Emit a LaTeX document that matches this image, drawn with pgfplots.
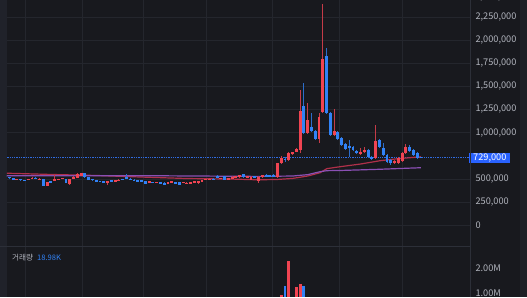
\documentclass[border=0pt]{standalone}
\usepackage{pgfplots}
\pgfplotsset{compat=1.18}
\usepackage{pgfplotstable}
\usepackage{fontspec}
\setmainfont{Noto Sans CJK KR}
\definecolor{bgc}{HTML}{18191E}
\definecolor{leftc}{HTML}{20222A}
\definecolor{rightc}{HTML}{1E2026}
\definecolor{gridc}{HTML}{24262D}
\definecolor{sepc}{HTML}{2C2F38}
\definecolor{tickc}{HTML}{B2B5BE}
\definecolor{cred}{HTML}{F04452}
\definecolor{cblue}{HTML}{3182F6}
\definecolor{plblue}{HTML}{2962FF}
\definecolor{pldot}{HTML}{2F6BE0}
\definecolor{maone}{HTML}{B0304A}
\definecolor{matwo}{HTML}{8A50B4}
\newcommand\tickfont{\fontsize{9.2}{11}\selectfont}

\pgfplotstableread{
i o h l c
3 487000 503000 483000 498000
6 487000 502000 483000 498000
7 498000 519000 494000 514000
9 492000 508000 488000 503000
11 422000 470000 417000 465000
13 476000 541000 471000 498000
14 487000 503000 482000 498000
15 498000 514000 493000 509000
17 444000 503000 438000 498000
18 498000 525000 493000 520000
19 509000 563000 504000 557000
20 530000 568000 525000 563000
27 465000 480000 433000 476000
29 476000 491000 472000 487000
30 482000 497000 477000 492000
38 455000 476000 450000 471000
40 455000 470000 450000 465000
43 449000 465000 444000 460000
44 455000 476000 450000 471000
47 455000 470000 450000 465000
48 444000 460000 439000 455000
49 449000 465000 444000 460000
50 455000 476000 450000 471000
51 465000 481000 444000 476000
52 471000 492000 466000 487000
53 487000 503000 482000 498000
54 492000 508000 488000 503000
57 498000 514000 493000 509000
59 487000 514000 482000 509000
60 498000 525000 493000 520000
61 509000 535000 504000 530000
62 520000 546000 514000 541000
64 509000 535000 504000 530000
65 487000 525000 482000 520000
67 476000 525000 455000 520000
68 520000 546000 514000 541000
72 520000 676000 514000 671000
73 671000 747000 660000 725000
75 704000 790000 698000 779000
76 768000 795000 763000 790000
77 790000 828000 785000 823000
78 812000 1461000 779000 1234000
80 996000 1320000 985000 1136000
83 931000 1212000 888000 1169000
84 1223000 2392000 1212000 1797000
87 974000 1256000 963000 1017000
94 779000 830000 757000 790000
95 790000 844000 779000 812000
98 725000 1082000 714000 909000
103 671000 703000 660000 693000
104 671000 736000 660000 725000
105 693000 790000 682000 779000
106 779000 877000 768000 844000
}\uptab

\pgfplotstableread{
i o h l c
0 541000 546000 515000 520000
1 520000 524000 504000 509000
2 509000 513000 482000 487000
4 498000 502000 482000 487000
5 488000 492000 477000 481000
8 514000 518000 499000 503000
10 498000 503000 417000 422000
12 476000 481000 460000 465000
16 498000 503000 450000 455000
21 563000 568000 514000 520000
22 520000 524000 488000 492000
23 498000 502000 482000 487000
24 487000 491000 471000 476000
25 477000 481000 466000 470000
26 476000 480000 460000 465000
28 482000 486000 466000 471000
31 498000 503000 482000 487000
32 520000 547000 493000 498000
33 503000 508000 488000 492000
34 492000 497000 477000 482000
35 487000 491000 471000 476000
36 487000 491000 466000 471000
37 476000 481000 444000 449000
39 465000 470000 450000 455000
41 460000 465000 444000 449000
42 455000 460000 433000 438000
45 465000 470000 444000 449000
46 460000 465000 433000 438000
55 503000 508000 488000 492000
56 530000 541000 504000 509000
58 530000 535000 482000 487000
63 552000 557000 514000 520000
66 530000 535000 504000 509000
69 541000 552000 520000 525000
70 536000 546000 520000 525000
71 541000 552000 525000 530000
74 714000 736000 682000 704000
79 1288000 1537000 985000 996000
81 1061000 1212000 1006000 1017000
82 1017000 1028000 920000 931000
85 1829000 1916000 1201000 1212000
86 1212000 1223000 963000 974000
88 1007000 1017000 920000 931000
89 942000 952000 855000 866000
90 877000 887000 812000 823000
91 855000 920000 736000 833000
92 844000 855000 801000 812000
93 801000 812000 768000 779000
96 812000 822000 725000 736000
97 736000 747000 704000 714000
99 920000 931000 833000 844000
100 833000 887000 747000 758000
101 758000 768000 671000 682000
102 704000 714000 649000 671000
107 844000 866000 790000 801000
108 812000 822000 747000 758000
109 779000 790000 714000 725000
110 736000 740000 725000 729000
}\downtab

\pgfplotsset{
  candlebase/.style={
    xmin=0.37, xmax=122.99,
    scale only axis,
    axis line style={draw=none},
    tick style={draw=none},
    major tick length=0pt,
    xtick={5.1,20.2,36.4,53.1,70.7,88.3,105.0},
    xticklabels={},
    xticklabel style={text opacity=0},
    xmajorgrids,
    grid style={draw=gridc, line width=0.6pt},
    ytick pos=right,
    yticklabel pos=right,
    yticklabel style={font=\tickfont, text=tickc, anchor=west, xshift=2pt},
    scaled y ticks=false,
    clip mode=individual,
  },
}

\begin{document}
\begin{tikzpicture}[x=1pt,y=1pt]
\useasboundingbox (0,0) rectangle (527,297);
\fill[bgc] (0,0) rectangle (527,297);
\fill[leftc] (0,0) rectangle (7,297);
\fill[rightc] (520,0) rectangle (527,297);
\begin{scope}
\clip (0,0) rectangle (527,297);

% price pane
\begin{axis}[candlebase,
  at={(7pt,51pt)}, anchor=south west,
  width=463pt, height=246pt,
  ymin=-227283, ymax=2435175,
  ytick={0,250000,500000,1000000,1250000,1500000,1750000,2000000,2250000},
  ymajorgrids,
  yticklabel style={/pgf/number format/fixed, /pgf/number format/precision=0,
    /pgf/number format/1000 sep={,}, /pgf/number format/assume math mode=true},
]
\addplot[pldot, line width=1pt, dash pattern=on 1.3pt off 1pt] coordinates {(-2,729000) (125,729000)};
% moving averages
\addplot[maone, line width=1.2pt] coordinates {
  (-1,562000) (12,547000) (24,536000) (36,519000) (48,503000) (60,497000)
  (67,489000) (72,493000) (76,504000) (80,530000) (83.3,566000) (85.1,610000)
  (88.6,631000) (94,660000) (99.2,696000) (104.5,720000) (110,738000)};
\addplot[matwo, line width=1.2pt] coordinates {
  (-1,534000) (35,534000) (51,530000) (67,526000) (76,530000) (80,545000)
  (83.3,577000) (85.1,588000) (88.6,590000) (99,603000) (110,620000)};
% wicks
\addplot[draw=none, mark=none, error bars/.cd, y dir=both, y explicit, error mark=none,
  error bar style={draw=cred!80!bgc, line width=0.9pt}]
  table[x=i, y expr={(\thisrow{h}+\thisrow{l})/2}, y error expr={(\thisrow{h}-\thisrow{l})/2}] {\uptab};
\addplot[draw=none, mark=none, error bars/.cd, y dir=both, y explicit, error mark=none,
  error bar style={draw=cblue!80!bgc, line width=0.9pt}]
  table[x=i, y expr={(\thisrow{h}+\thisrow{l})/2}, y error expr={(\thisrow{h}-\thisrow{l})/2}] {\downtab};
% bodies
\addplot[draw=none, mark=none, error bars/.cd, y dir=both, y explicit, error mark=none,
  error bar style={draw=cred, line width=2.9pt}]
  table[x=i, y expr={(\thisrow{o}+\thisrow{c})/2}, y error expr={abs(\thisrow{c}-\thisrow{o})/2}] {\uptab};
\addplot[draw=none, mark=none, error bars/.cd, y dir=both, y explicit, error mark=none,
  error bar style={draw=cblue, line width=2.9pt}]
  table[x=i, y expr={(\thisrow{o}+\thisrow{c})/2}, y error expr={abs(\thisrow{c}-\thisrow{o})/2}] {\downtab};
\node[fill=plblue, text=white, anchor=west, font=\tickfont, inner xsep=4pt, inner ysep=0pt,
  minimum height=10pt] at (axis cs:122.72,729000) {729,000};
\end{axis}

% volume pane
\begin{axis}[candlebase,
  at={(7pt,0pt)}, anchor=south west,
  width=463pt, height=50pt,
  ymin=840000, ymax=2840000,
  ytick={1000000,2000000}, yticklabels={1.00M,2.00M},
]
\addplot[ycomb, cred, line width=2.9pt] coordinates {(73,920000) (75,2290000) (77,1240000) (78,1350000)};
\addplot[ycomb, cblue, line width=2.9pt] coordinates {(74,1290000) (79,1270000)};
\end{axis}

\node[anchor=west, text=tickc, font=\tickfont, inner sep=0pt] at (475,300) {2,500,000};
\node[anchor=base west, inner sep=0pt, font=\fontsize{7.6}{9}\selectfont] at (12,36)
  {\textcolor{tickc}{거래량}\hspace{4pt}\textcolor{cblue}{18.98K}};
\end{scope}
\draw[sepc, line width=0.8pt] (0,50.5) -- (470,50.5);
\draw[sepc, line width=0.8pt] (470,0) -- (470,297);
\end{tikzpicture}
\end{document}
